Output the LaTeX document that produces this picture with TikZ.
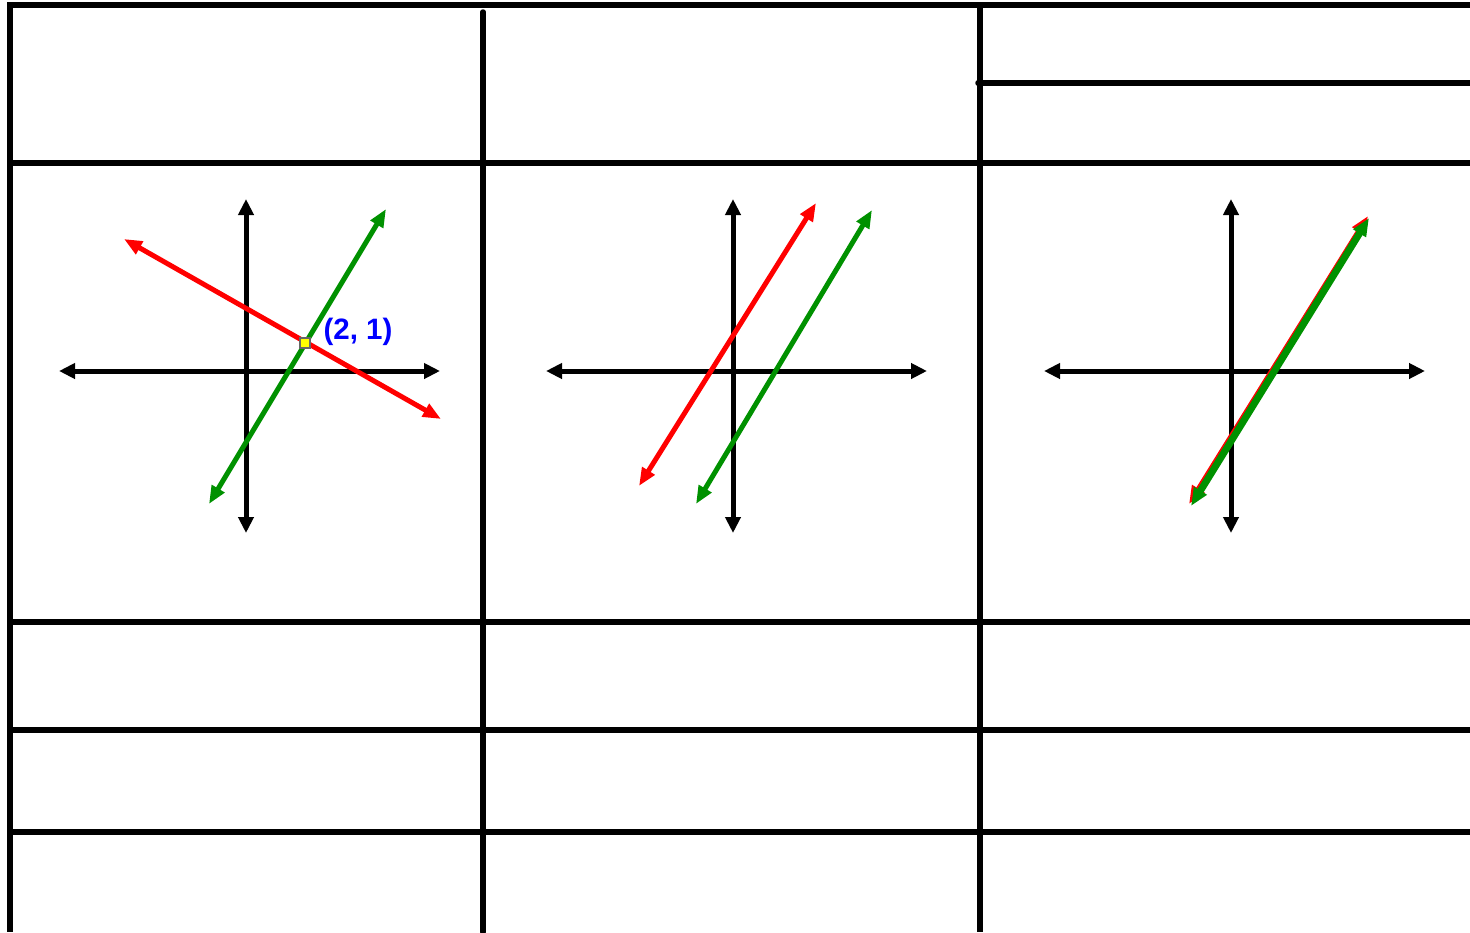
\documentclass[tikz,border=0pt]{standalone}
\usepackage{fontspec}
\setmainfont{Liberation Sans}
\usepackage{xcolor}
\usetikzlibrary{arrows.meta}
\definecolor{linered}{RGB}{255,0,0}
\definecolor{linegreen}{RGB}{0,145,0}
\definecolor{ptblue}{RGB}{0,0,255}
\definecolor{ptyellow}{RGB}{255,255,0}

\begin{document}
\begin{tikzpicture}[
        x=1pt, y=-1pt,
        rule/.style={line width=5.5pt, black},
        ax/.style={{Triangle[length=16pt,width=15pt]}-{Triangle[length=16pt,width=15pt]},
                   line width=5pt, black},
        redln/.style={{Triangle[length=18pt,width=14pt]}-{Triangle[length=18pt,width=14pt]},
                      line width=5pt, linered},
        grnln/.style={{Triangle[length=18pt,width=14pt]}-{Triangle[length=18pt,width=14pt]},
                      line width=5pt, linegreen},
        pt/.style={draw=black!60, fill=ptyellow, line width=1.5pt,
                   minimum size=10pt, inner sep=0pt},
        lbl/.style={font=\fontsize{29.5}{33}\selectfont\bfseries, text=ptblue},
      ]
        \useasboundingbox (0,0) rectangle (1470,932);

        % Table rules
        \draw[rule] (7,5) -- (1470,5);
        \draw[rule] (10,5) -- (10,932);
        \draw[rule, line cap=round] (483,12) -- (483,932);
        \draw[rule] (980,5) -- (980,932);
        \draw[rule, line cap=round] (978,83) -- (1470,83);
        \foreach \y in {163,622,730,832}
          \draw[rule] (7,\y) -- (1470,\y);

        % Axes
        \foreach \ox/\n in {246/1, 733/2, 1231/3} {
          \coordinate (xl\n) at (\ox-187,371);
          \coordinate (xr\n) at (\ox+194,371);
          \coordinate (yt\n) at (\ox,199);
          \coordinate (yb\n) at (\ox,533);
          \draw[ax] (xl\n) -- (xr\n);
          \draw[ax] (yb\n) -- (yt\n);
        }

        % Graph 1: one solution
        \coordinate (ra1) at (124,239);
        \coordinate (rb1) at (441,419);
        \coordinate (ga1) at (209,504);
        \coordinate (gb1) at (386,209);
        \draw[grnln] (ga1) -- (gb1);
        \draw[redln] (ra1) -- (rb1);
        \node[pt] (sol) at (305,343) {};
        \node[lbl, anchor=west] (sollbl) at (320,332) {(2, 1)};

        % Graph 2: no solution
        \coordinate (ra2) at (639,486);
        \coordinate (rb2) at (816,203);
        \coordinate (ga2) at (696,504);
        \coordinate (gb2) at (872,210);
        \draw[redln] (ra2) -- (rb2);
        \draw[grnln] (ga2) -- (gb2);

        % Graph 3: same line
        \coordinate (ra3) at (1189,504);
        \coordinate (rb3) at (1368,216);
        \coordinate (ga3) at (1191,506);
        \coordinate (gb3) at (1369,218);
        \draw[redln] (ra3) -- (rb3);
        \draw[grnln, line width=7pt] (ga3) -- (gb3);
      \end{tikzpicture}
\end{document}
